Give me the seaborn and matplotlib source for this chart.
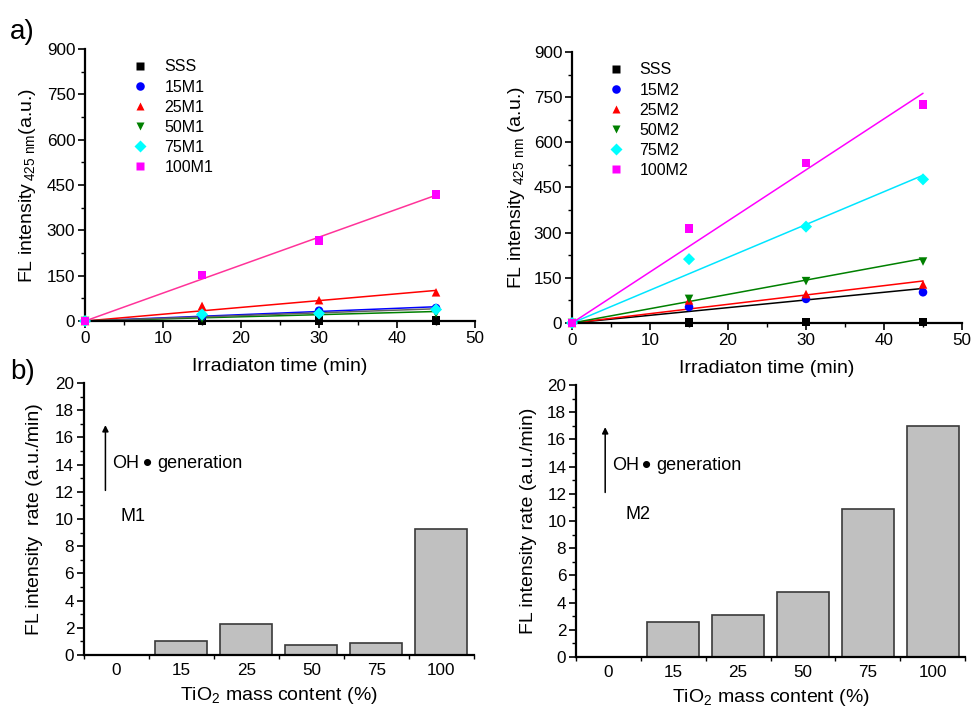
import numpy as np
import pandas as pd
import matplotlib
matplotlib.use("Agg")
import matplotlib.pyplot as plt
from matplotlib.ticker import MultipleLocator
import seaborn as sns

# ---- data ----
times = [0, 15, 30, 45]
samples_m1 = ["SSS", "15M1", "25M1", "50M1", "75M1", "100M1"]
samples_m2 = ["SSS", "15M2", "25M2", "50M2", "75M2", "100M2"]

# fluorescence intensity at 425 nm (a.u.) vs irradiation time
fl_sss_m1 = [0, 2, 2, 2]
fl_15m1 = [0, 15, 34, 43]
fl_25m1 = [0, 50, 69, 95]
fl_50m1 = [0, 8, 20, 25]
fl_75m1 = [0, 22, 25, 38]
fl_100m1 = [0, 152, 266, 419]

fl_sss_m2 = [0, 2, 3, 4]
fl_15m2 = [0, 53, 80, 102]
fl_25m2 = [0, 75, 96, 128]
fl_50m2 = [0, 80, 139, 204]
fl_75m2 = [0, 212, 320, 477]
fl_100m2 = [0, 314, 532, 726]

# fitted FL intensity rates (a.u./min)
tio2_content = ["0", "15", "25", "50", "75", "100"]
rate_m1 = [0.0, 1.05, 2.25, 0.7, 0.9, 9.25]
rate_m2 = [0.0, 2.55, 3.1, 4.75, 10.9, 16.95]

marker_colors = ["#000000", "#0000ff", "#ff0000", "#008000", "#00ffff", "#ff00ff"]
markers = ["s", "o", "^", "v", "D", "s"]
line_colors_m1 = ["#7a1010", "#0000ff", "#ff0000", "#008000", "#606060", "#ff3399"]
line_colors_m2 = ["#000000", "#000000", "#ff0000", "#008000", "#00e5ff", "#ff00ff"]

sns.set_theme(style="ticks")
plt.rcParams["font.family"] = ["Liberation Sans", "DejaVu Sans"]
plt.rcParams.update({
    "axes.linewidth": 1.4,
    "text.color": "black",
    "axes.labelcolor": "black",
    "xtick.color": "black",
    "ytick.color": "black",
})

fig = plt.figure(figsize=(9.73, 7.08), dpi=100)
ax_tl = fig.add_axes([0.0874, 0.5466, 0.4008, 0.3842])
ax_tr = fig.add_axes([0.5879, 0.5438, 0.4008, 0.3828])
ax_bl = fig.add_axes([0.0863, 0.0749, 0.4008, 0.3842])
ax_br = fig.add_axes([0.5920, 0.0720, 0.3998, 0.3842])

TICK_FS = 12.3
LABEL_FS = 14


def style_axes(ax):
    sns.despine(ax=ax)
    ax.tick_params(axis="both", which="major", length=5, width=1.2,
                   labelsize=TICK_FS, color="black", labelcolor="black", pad=2)
    ax.tick_params(axis="both", which="minor", length=3, width=1.0, color="black")
    for s in ("left", "bottom"):
        ax.spines[s].set_color("black")
        ax.spines[s].set_linewidth(1.6)
    ax.set_facecolor("white")


def fl_panel(ax, samples, series, rates, line_colors, ylabel, legend_anchor, ylabelpad):
    rows = []
    for name, vals in zip(samples, series):
        for t, v in zip(times, vals):
            rows.append({"time": t, "fl": v, "sample": name})
    pts = pd.DataFrame(rows)

    fit_rows = []
    for name, r in zip(samples, rates):
        for t in (0, 45):
            fit_rows.append({"time": t, "fl": r * t, "sample": name})
    fits = pd.DataFrame(fit_rows)

    sns.lineplot(data=fits, x="time", y="fl", hue="sample", hue_order=samples,
                 palette=dict(zip(samples, line_colors)), linewidth=1.1,
                 legend=False, ax=ax, zorder=2)
    sns.scatterplot(data=pts, x="time", y="fl", hue="sample", style="sample",
                    hue_order=samples, style_order=samples,
                    palette=dict(zip(samples, marker_colors)),
                    markers=dict(zip(samples, markers)), s=38,
                    edgecolor="none", ax=ax, zorder=3, clip_on=False)
    ax.set_xlim(0, 50)
    ax.set_ylim(0, 900)
    ax.xaxis.set_major_locator(MultipleLocator(10))
    ax.xaxis.set_minor_locator(MultipleLocator(5))
    ax.yaxis.set_major_locator(MultipleLocator(150))
    ax.yaxis.set_minor_locator(MultipleLocator(75))
    ax.set_xlabel("Irradiaton time (min)", fontsize=LABEL_FS, labelpad=9)
    ax.set_ylabel(ylabel, fontsize=LABEL_FS, labelpad=ylabelpad)
    style_axes(ax)
    leg = ax.legend(loc="upper left", bbox_to_anchor=legend_anchor, frameon=False,
                    fontsize=11.5, handlelength=1.0, handletextpad=1.0,
                    labelspacing=0.32, borderaxespad=0)
    for h in leg.legend_handles:
        if hasattr(h, "set_sizes"):
            h.set_sizes([45])


fl_panel(ax_tl, samples_m1,
         [fl_sss_m1, fl_15m1, fl_25m1, fl_50m1, fl_75m1, fl_100m1],
         rate_m1, line_colors_m1,
         r"FL intensity$_{\mathregular{\,425\ nm}}$(a.u.)", (0.105, 0.985), 6)
fl_panel(ax_tr, samples_m2,
         [fl_sss_m2, fl_15m2, fl_25m2, fl_50m2, fl_75m2, fl_100m2],
         rate_m2, line_colors_m2,
         r"FL intensity$_{\mathregular{\ 425\ nm}}$ (a.u.)", (0.075, 0.985), 5)


def rate_panel(ax, rates, ylabel, tag, tag_xy, arrow_x, text_xs, ylabelpad):
    df = pd.DataFrame({"content": tio2_content, "rate": rates})
    sns.barplot(data=df, x="content", y="rate", order=tio2_content,
                color="#c0c0c0", saturation=1, width=0.8,
                edgecolor="#3a3a3a", linewidth=1.2, ax=ax)
    ax.set_xlim(-0.5, 5.5)
    ax.set_ylim(0, 20)
    ax.yaxis.set_major_locator(MultipleLocator(2))
    ax.yaxis.set_minor_locator(MultipleLocator(1))
    ax.set_xticks(np.arange(-0.5, 5.6, 1.0), minor=True)
    ax.set_xlabel(r"TiO$_{\mathregular{2}}$ mass content (%)", fontsize=LABEL_FS, labelpad=5)
    ax.set_ylabel(ylabel, fontsize=LABEL_FS, labelpad=ylabelpad)
    style_axes(ax)
    ax.tick_params(axis="x", which="major", length=0, pad=6)
    ax.annotate("", xy=(arrow_x, 16.9), xytext=(arrow_x, 12.1),
                arrowprops=dict(arrowstyle="-|>", color="black", lw=1.1,
                                mutation_scale=9, shrinkA=0, shrinkB=0))
    ax.text(text_xs[0], 14.05, "OH", fontsize=13, va="center", ha="left")
    ax.text(text_xs[1], 14.05, "\u2022", fontsize=19, va="center", ha="center")
    ax.text(text_xs[2], 14.05, "generation", fontsize=13, va="center", ha="left")
    ax.text(tag_xy[0], tag_xy[1], tag, fontsize=13, va="center", ha="left")


rate_panel(ax_bl, rate_m1, "FL intensity  rate (a.u./min)", "M1", (0.06, 10.15),
           -0.17, (-0.06, 0.485, 0.62), 9)
rate_panel(ax_br, rate_m2, "FL intensity rate (a.u./min)", "M2", (0.26, 10.5),
           -0.05, (0.06, 0.59, 0.735), 7)

fig.text(0.010, 0.955, "a)", fontsize=20, va="center", ha="left")
fig.text(0.010, 0.474, "b)", fontsize=20, va="center", ha="left")

fig.savefig("out.png", dpi=100, facecolor="white")
